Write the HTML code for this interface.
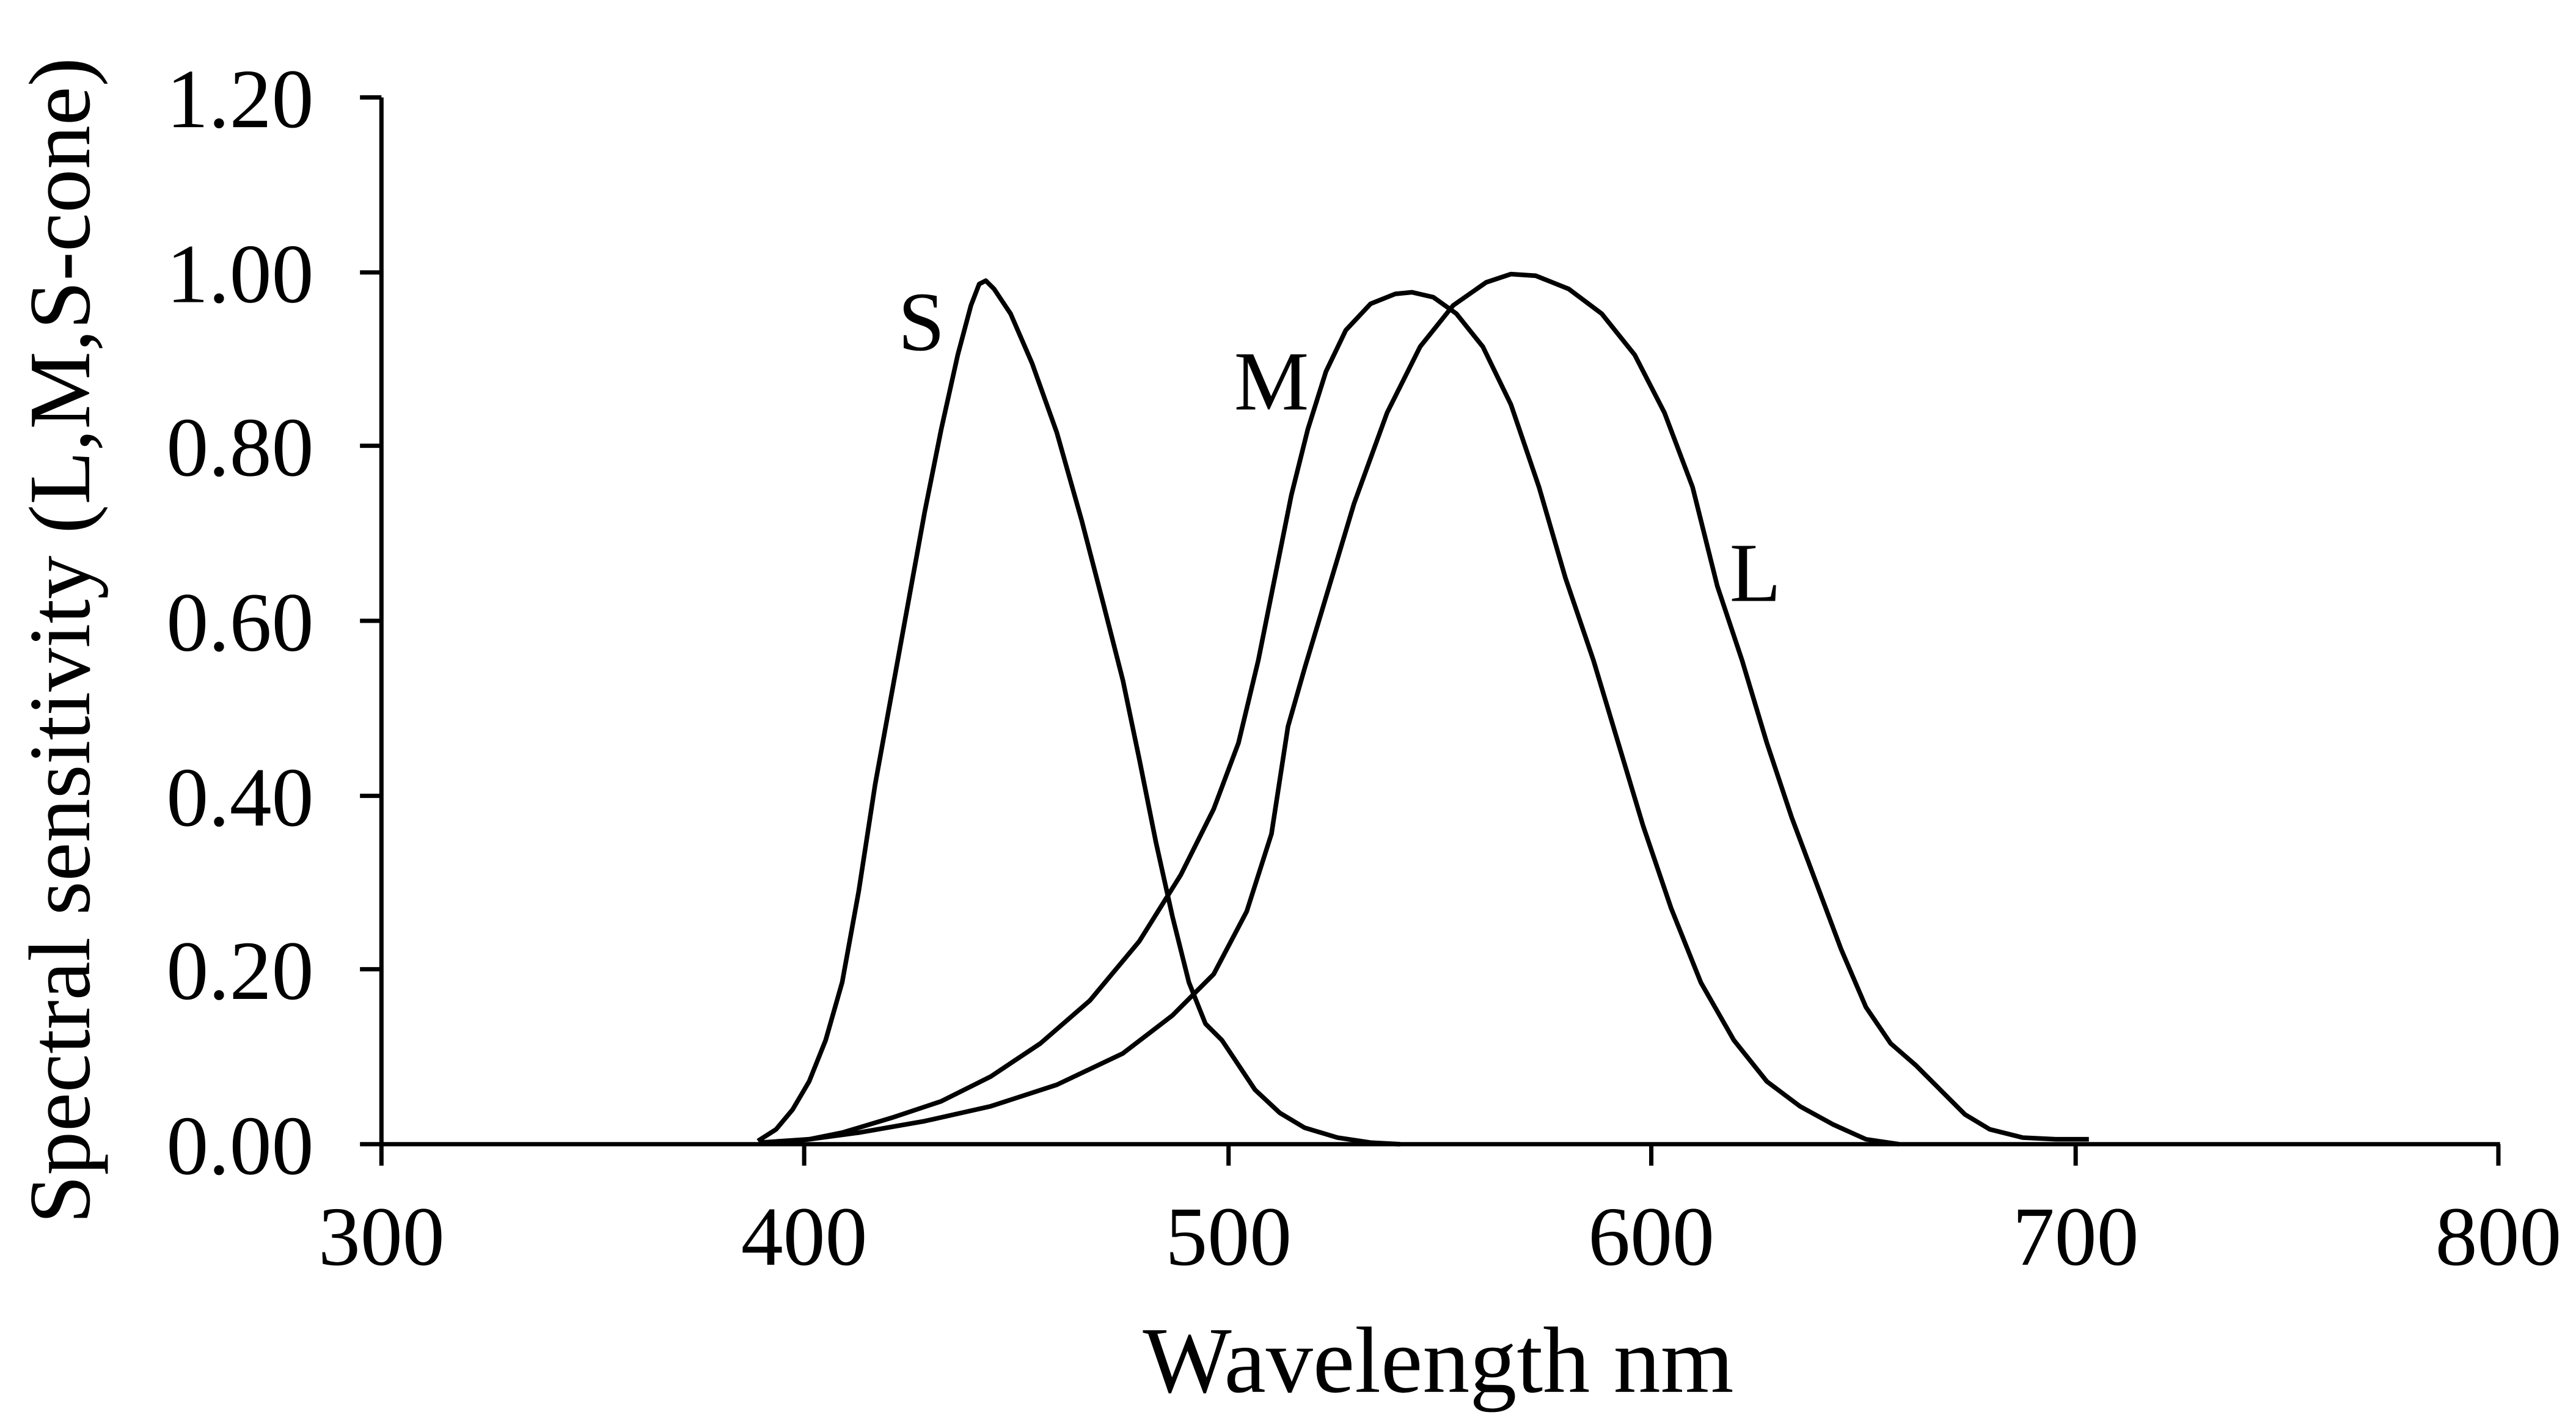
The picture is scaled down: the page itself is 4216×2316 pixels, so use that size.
<!DOCTYPE html>
<html><head><meta charset="utf-8"><style>
html,body{margin:0;padding:0;background:#fff;}
svg{display:block;}
text{font-family:"Liberation Serif",serif;fill:#000;}
</style></head><body>
<svg width="4216" height="2316" viewBox="0 0 1560 857" preserveAspectRatio="none" xmlns="http://www.w3.org/2000/svg">
<g stroke="#000" stroke-width="2.6" fill="none">
<line x1="231" y1="59" x2="231" y2="694"/>
<line x1="230" y1="693" x2="1514" y2="693"/>
<line x1="218" y1="59" x2="231" y2="59"/>
<line x1="218" y1="165" x2="231" y2="165"/>
<line x1="218" y1="270" x2="231" y2="270"/>
<line x1="218" y1="376" x2="231" y2="376"/>
<line x1="218" y1="482" x2="231" y2="482"/>
<line x1="218" y1="587" x2="231" y2="587"/>
<line x1="218" y1="693" x2="231" y2="693"/>
<line x1="231" y1="693" x2="231" y2="706"/>
<line x1="487" y1="693" x2="487" y2="706"/>
<line x1="744" y1="693" x2="744" y2="706"/>
<line x1="1000" y1="693" x2="1000" y2="706"/>
<line x1="1257" y1="693" x2="1257" y2="706"/>
<line x1="1513" y1="693" x2="1513" y2="706"/>
</g>
<g stroke="#000" stroke-width="2.8" fill="none" stroke-linejoin="round">
<polyline points="459,691 470,684 480,672 490,655 500,630 510,595 520,540 530,475 540,420 550,365 560,310 570,260 580,215 588,185 593,172 597,170 602,175 612,190 625,220 640,262 655,315 668,365 680,412 690,460 700,510 710,555 720,595 730,620 740,630 750,645 760,660 775,674 790,683 810,689 830,692 848,693"/>
<polyline points="470,692 490,690 510,686 540,677 570,667 600,652 630,632 660,606 690,570 715,530 735,490 750,450 762,400 772,350 782,300 792,260 803,225 815,200 830,184 845,178 855,177 868,180 882,190 898,210 915,245 932,295 948,350 965,400 980,450 995,500 1012,550 1030,595 1050,630 1070,655 1090,670 1110,681 1130,690 1150,693"/>
<polyline points="460,692 490,690 520,686 560,679 600,670 640,657 680,638 710,615 735,590 755,552 770,505 780,440 790,405 805,355 820,305 840,250 860,210 880,185 900,171 915,166 930,167 950,175 970,190 990,215 1008,250 1025,295 1040,355 1055,400 1070,450 1085,495 1100,535 1115,575 1130,610 1145,632 1160,645 1175,660 1190,675 1205,684 1225,689 1245,690 1265,690"/>
</g>
<g font-size="51" text-anchor="end">
<text x="190" y="77">1.20</text>
<text x="190" y="183">1.00</text>
<text x="190" y="288">0.80</text>
<text x="190" y="394">0.60</text>
<text x="190" y="500">0.40</text>
<text x="190" y="605">0.20</text>
<text x="190" y="711">0.00</text>
</g>
<g font-size="51" text-anchor="middle">
<text x="231" y="766">300</text>
<text x="487" y="766">400</text>
<text x="744" y="766">500</text>
<text x="1000" y="766">600</text>
<text x="1257" y="766">700</text>
<text x="1513" y="766">800</text>
<text x="871" y="843" font-size="57">Wavelength nm</text>
<text x="558" y="212">S</text>
<text x="770" y="248">M</text>
<text x="1063" y="364">L</text>
<text transform="translate(54,388) rotate(-90)" font-size="53">Spectral sensitivity (L,M,S-cone)</text>
</g>
</svg>
</body></html>
